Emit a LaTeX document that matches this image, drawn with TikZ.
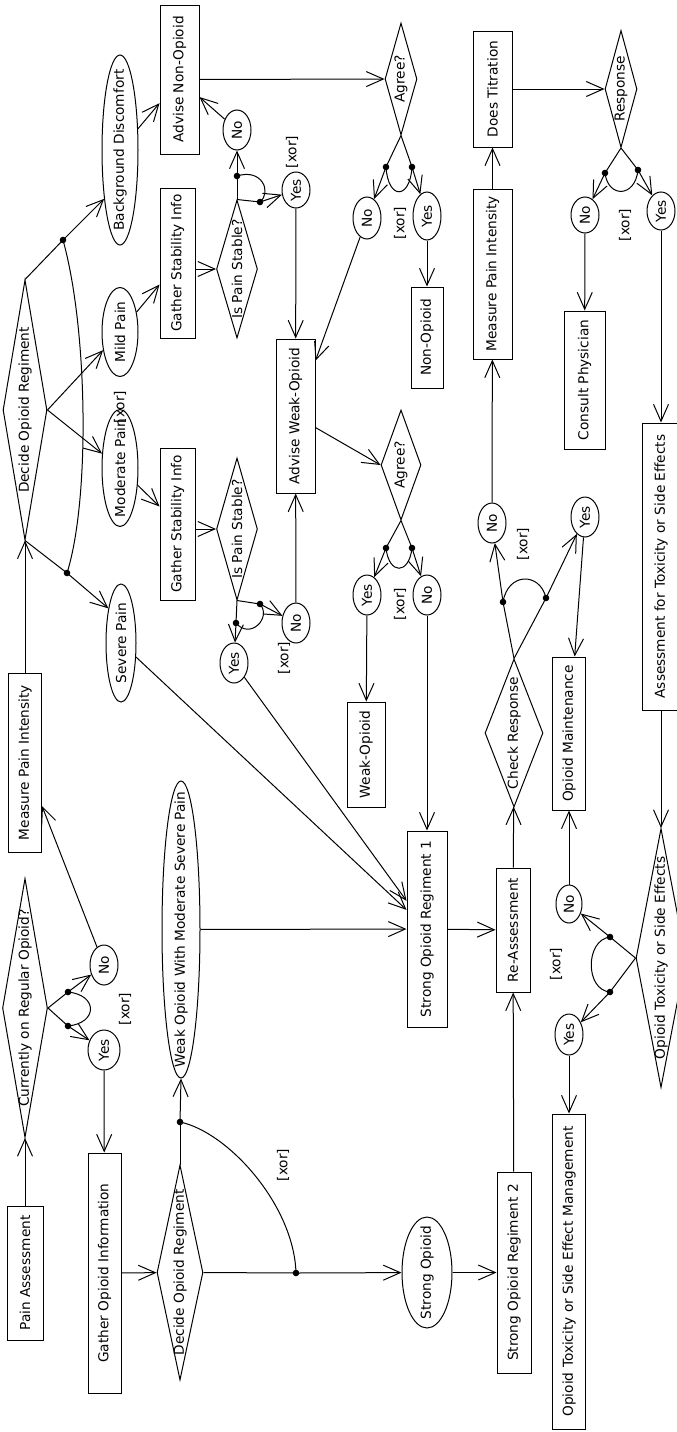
\documentclass[tikz,border=0pt]{standalone}
\usepackage{graphicx}
\usepackage{fontspec}
\setmainfont{DejaVu Sans}
\usetikzlibrary{arrows.meta, shapes.geometric}

\newcommand{\vt}[1]{\rotatebox{90}{\makebox[0pt]{#1}}}

\tikzset{
  procbox/.style={draw, rectangle, inner sep=0pt},
  choice/.style={draw, ellipse, inner sep=0pt},
  answer/.style={choice, minimum width=28pt, minimum height=40pt},
  decision/.style={draw, diamond, inner sep=0pt},
  xorlab/.style={rotate=90, inner sep=0pt}
}

\begin{document}
\begin{tikzpicture}[x=1pt, y=-1pt, line width=1pt,
    font=\fontsize{13.7pt}{16pt}\selectfont,
    >={Straight Barb[length=17pt, width=15pt]}]
  \useasboundingbox (0,0) rectangle (677,1432);
  \fill[white] (0,0) rectangle (677,1432);
  \clip (0,0) rectangle (677,1432);

  % activities
  \node[procbox, minimum width=36pt, minimum height=134pt] (painass) at (25,1273) {\vt{Pain Assessment}};
  \node[procbox, minimum width=33pt, minimum height=240pt] (gatheroi) at (104.5,1273) {\vt{Gather Opioid Information}};
  \node[procbox, minimum width=34pt, minimum height=201pt] (sor2) at (514,1272.5) {\vt{Strong Opioid Regiment 2}};
  \node[procbox, minimum width=33pt, minimum height=315pt] (toxmgmt) at (569,1271.5) {\vt{Opioid Toxicity or Side Effect Management}};
  \node[procbox, minimum width=34pt, minimum height=124pt] (reass) at (513,930) {\vt{Re-Assessment}};
  \node[procbox, minimum width=40pt, minimum height=196pt] (sor1) at (427,929) {\vt{Strong Opioid Regiment 1}};
  \node[procbox, minimum width=33pt, minimum height=179pt] (measlow) at (25,762.5) {\vt{Measure Pain Intensity}};
  \node[procbox, minimum width=38pt, minimum height=105pt] (weakop) at (366,754.5) {\vt{Weak-Opioid}};
  \node[procbox, minimum width=33pt, minimum height=153pt] (opmaint) at (569,733.5) {\vt{Opioid Maintenance}};
  \node[procbox, minimum width=38pt, minimum height=287pt] (assess) at (661,566.5) {\vt{Assessment for Toxicity or Side Effects}};
  \node[procbox, minimum width=35pt, minimum height=152pt] (gsilow) at (177.5,524) {\vt{Gather Stability Info}};
  \node[procbox, minimum width=39pt, minimum height=154pt] (advweak) at (295.5,416) {\vt{Advise Weak-Opioid}};
  \node[procbox, minimum width=41pt, minimum height=138pt] (consult) at (584.5,380) {\vt{Consult Physician}};
  \node[procbox, minimum width=32pt, minimum height=101pt] (nonop) at (427,337.5) {\vt{Non-Opioid}};
  \node[procbox, minimum width=39pt, minimum height=170pt] (measup) at (492.5,274) {\vt{Measure Pain Intensity}};
  \node[procbox, minimum width=35pt, minimum height=150pt] (gsiup) at (177.5,263) {\vt{Gather Stability Info}};
  \node[procbox, minimum width=39pt, minimum height=149pt] (advnon) at (179.5,79.5) {\vt{Advise Non-Opioid}};
  \node[procbox, minimum width=39pt, minimum height=116pt] (titr) at (492.5,89) {\vt{Does Titration}};

  % states
  \node[choice, minimum width=36pt, minimum height=190pt] (bgd) at (120,150) {\vt{Background Discomfort}};
  \node[choice, minimum width=36pt, minimum height=89pt] (mild) at (120,332) {\vt{Mild Pain}};
  \node[choice, minimum width=36pt, minimum height=117pt] (moder) at (120,468) {\vt{Moderate Pain}};
  \node[choice, minimum width=30pt, minimum height=118pt] (severe) at (121,643) {\vt{Severe Pain}};
  \node[choice, minimum width=38pt, minimum height=297pt] (wowmsp) at (181,929.5) {\vt{Weak Opioid With Moderate Severe Pain}};
  \node[choice, minimum width=50pt, minimum height=111pt] (strongop) at (427,1272.5) {\vt{Strong Opioid}};

  % answers
  \node[answer] (cno) at (104,965) {\vt{No}};
  \node[answer, minimum width=32pt] (cyes) at (104,1050) {\vt{Yes}};
  \node[answer] (s1no) at (237,130) {\vt{No}};
  \node[answer, minimum height=36pt] (s1yes) at (296,190) {\vt{Yes}};
  \node[answer] (s2yes) at (234,663) {\vt{Yes}};
  \node[answer] (s2no) at (296,623) {\vt{No}};
  \node[answer, minimum height=42pt] (a1no) at (367,218) {\vt{No}};
  \node[answer, minimum height=48pt] (a1yes) at (427,216) {\vt{Yes}};
  \node[answer] (a2yes) at (367,595) {\vt{Yes}};
  \node[answer] (a2no) at (427,595) {\vt{No}};
  \node[answer] (crno) at (492,523) {\vt{No}};
  \node[answer] (cryes) at (585,517) {\vt{Yes}};
  \node[answer, minimum height=36pt] (rno) at (585,215) {\vt{No}};
  \node[answer, minimum height=38pt] (ryes) at (661,211) {\vt{Yes}};
  \node[answer, minimum width=26pt, minimum height=38pt] (tno) at (569,904) {\vt{No}};
  \node[answer, minimum height=41pt] (tyes) at (569,1034.5) {\vt{Yes}};

  % decisions
  \node[decision, minimum width=45pt, minimum height=259pt] (curr) at (25,1008) {\vt{Currently on Regular Opioid?}};
  \node[decision, minimum width=46pt, minimum height=215pt] (declow) at (180,1272.5) {\vt{Decide Opioid Regiment}};
  \node[decision, minimum width=44pt, minimum height=260pt] (decup) at (25,410) {\vt{Decide Opioid Regiment}};
  \node[decision, minimum width=41pt, minimum height=138pt] (stab1) at (237,269) {\vt{Is Pain Stable?}};
  \node[decision, minimum width=41pt, minimum height=142pt] (stab2) at (237,529) {\vt{Is Pain Stable?}};
  \node[decision, minimum width=32pt, minimum height=112pt] (agr1) at (401,79) {\vt{Agree?}};
  \node[decision, minimum width=40pt, minimum height=110pt] (agr2) at (401,465) {\vt{Agree?}};
  \node[decision, minimum width=32pt, minimum height=117pt] (resp) at (621,89) {\vt{Response}};
  \node[decision, minimum width=58pt, minimum height=148pt] (chk) at (514,733) {\vt{Check Response}};
  \node[decision, minimum width=50pt, minimum height=259pt] (tox) at (661,958) {\vt{Opioid Toxicity or Side Effects}};

  % fork points
  \coordinate (d1a) at (63,240);   \coordinate (d1b) at (67,573);
  \coordinate (s1a) at (237,176);  \coordinate (s1b) at (260,202);
  \coordinate (s2a) at (236,623);  \coordinate (s2b) at (260,604);
  \coordinate (a1a) at (386,167);  \coordinate (a1b) at (412,167);
  \coordinate (a2a) at (386,548);  \coordinate (a2b) at (412,548);
  \coordinate (ra) at (605,173);   \coordinate (rb) at (638,170);
  \coordinate (cra) at (503,602);  \coordinate (crb) at (546,598);
  \coordinate (ta) at (610,937);   \coordinate (tb) at (610,992);
  \coordinate (ca) at (68,992);    \coordinate (cb) at (68,1026);
  \coordinate (dl) at (180,1122);  \coordinate (dr) at (296,1273);

  % assessment and current opioid
  \draw[->] (painass) -- (curr);
  \draw (curr.east) -- (ca);
  \draw (curr.east) -- (cb);
  \draw[->] (ca) -- (cno);
  \draw[->] (cb) -- (cyes);
  \draw (ca) .. controls (98,995) and (98,1023) .. (cb);
  \draw[->] (cyes) -- (gatheroi);
  \draw[->] (gatheroi) -- (declow);
  \draw (declow.north) -- (dl);
  \draw[->] (dl) -- (wowmsp.south);
  \draw (declow.east) -- (dr);
  \draw[->] (dr) -- (strongop);
  \draw (dl) .. controls (228,1132) and (294,1205) .. (dr);
  \draw[->] (strongop) -- (sor2);
  \draw[->] (sor2) -- (reass);
  \draw[->] (wowmsp) -- (sor1);
  \draw[->] (cno) -- (measlow);
  \draw[->] (measlow) -- (decup);

  % pain level
  \draw (decup.north) -- (d1a);
  \draw[->] (d1a) -- (bgd.252);
  \draw (decup.south) -- (d1b);
  \draw[->] (d1b) -- (severe.110);
  \draw (d1a) .. controls (88,330) and (90,500) .. (d1b);
  \draw[->] (decup.east) -- (mild);
  \draw[->] (decup.east) -- (moder);
  \draw[->] (bgd) -- (advnon);
  \draw[->] (mild) -- (gsiup);
  \draw[->] (moder) -- (gsilow);

  % stability
  \draw[->] (gsiup.east |- stab1) -- (stab1);
  \draw (stab1.north) -- (s1a);
  \draw (stab1.north) -- (s1b);
  \draw[->] (s1a) -- (s1no);
  \draw[->] (s1b) -- (s1yes);
  \draw (s1a) .. controls (262,168) and (272,192) .. (s1b);
  \draw[->] (s1no) -- (advnon);
  \draw[->] (s1yes) -- (advweak);
  \draw[->] (gsilow.east |- stab2) -- (stab2);
  \draw (stab2.south) -- (s2a);
  \draw (stab2.south) -- (s2b);
  \draw[->] (s2a) -- (s2yes);
  \draw[->] (s2b) -- (s2no);
  \draw (s2a) .. controls (250,640) and (272,618) .. (s2b);
  \draw[->] (s2no) -- (advweak);
  \draw[->] (s2yes) -- (sor1);
  \draw[->] (severe) -- (sor1);

  % agreement
  \draw[->] (advnon) -- (agr1);
  \draw (agr1.south) -- (a1a);
  \draw (agr1.south) -- (a1b);
  \draw[->] (a1a) -- (a1no);
  \draw[->] (a1b) -- (a1yes);
  \draw (a1a) .. controls (388,200) and (410,200) .. (a1b);
  \draw[->] (a1yes) -- (nonop);
  \draw[->] (a1no) -- (advweak);
  \draw[->] (advweak) -- (agr2.west);
  \draw (agr2.south) -- (a2a);
  \draw (agr2.south) -- (a2b);
  \draw[->] (a2a) -- (a2yes);
  \draw[->] (a2b) -- (a2no);
  \draw (a2a) .. controls (389,575) and (409,575) .. (a2b);
  \draw[->] (a2yes) -- (weakop);
  \draw[->] (a2no) -- (sor1);
  \draw[->] (sor1) -- (reass);

  % re-assessment and titration
  \draw[->] (reass) -- (chk);
  \draw (chk.north) -- (cra);
  \draw (chk.north) -- (crb);
  \draw[->] (cra) -- (crno);
  \draw[->] (crb) -- (cryes);
  \draw (cra) .. controls (508,572) and (540,572) .. (crb);
  \draw[->] (crno) -- (measup);
  \draw[->] (measup) -- (titr);
  \draw[->] (titr) -- (resp);
  \draw (resp.south) -- (ra);
  \draw (resp.south) -- (rb);
  \draw[->] (ra) -- (rno);
  \draw[->] (rb) -- (ryes);
  \draw (ra) .. controls (608,198) and (635,198) .. (rb);
  \draw[->] (rno) -- (consult);
  \draw[->] (ryes) -- (assess);
  \draw[->] (assess) -- (tox);
  \draw (tox.west) -- (ta);
  \draw (tox.west) -- (tb);
  \draw[->] (ta) -- (tno);
  \draw[->] (tb) -- (tyes);
  \draw (ta) .. controls (585,940) and (585,990) .. (tb);
  \draw[->] (tno) -- (opmaint);
  \draw[->] (cryes) -- (opmaint);
  \draw[->] (tyes) -- (toxmgmt);

  \foreach \d in {d1a,d1b,s1a,s1b,s2a,s2b,a1a,a1b,a2a,a2b,ra,rb,cra,crb,ta,tb,ca,cb,dl,dr}
    \fill (\d) circle (3.3pt);

  \foreach \x/\y [count=\i] in {292/152, 120/407, 284/658, 400/223, 400/604,
      625/225, 523/544, 556/964, 125/1009, 283/1165}
    \node[xorlab] (xor\i) at (\x,\y) {[xor]};
\end{tikzpicture}
\end{document}
